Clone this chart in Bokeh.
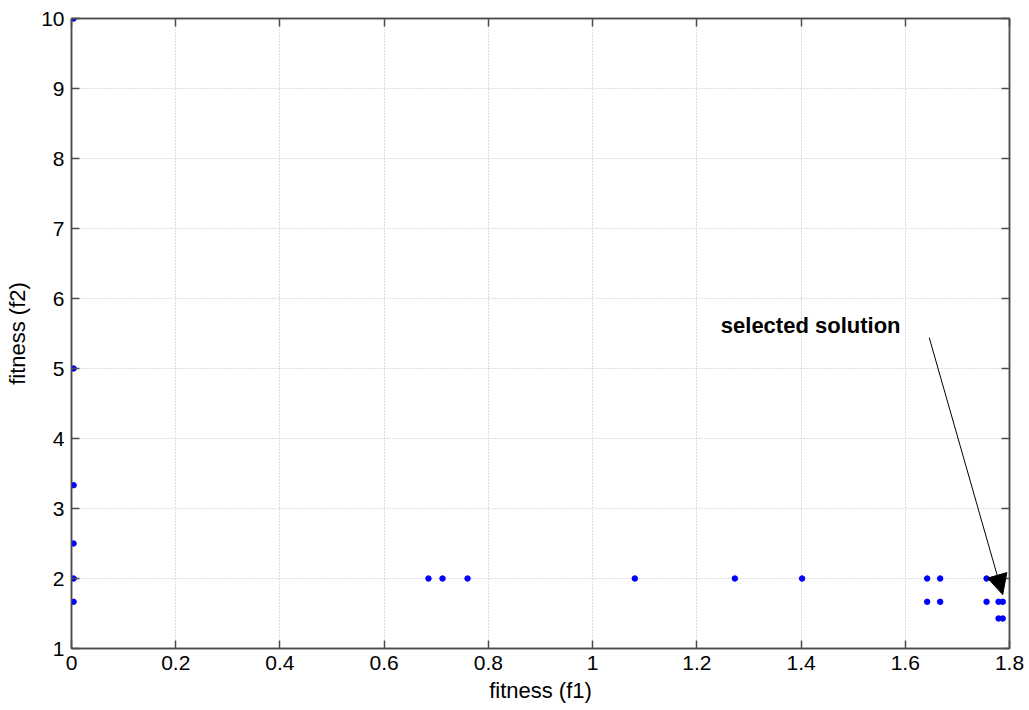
from bokeh.plotting import figure
from bokeh.models import (Range1d, FixedTicker, LinearAxis, Arrow, NormalHead,
                          Label)
from bokeh.embed import file_html
from bokeh.resources import INLINE

# Data
f1_values = [0.004, 0.004, 0.004, 0.004, 0.004, 0.004,
             0.685, 0.712, 0.760, 1.081, 1.273, 1.402, 1.642, 1.667, 1.756,
             1.642, 1.667, 1.756, 1.779, 1.787,
             1.779, 1.787]
f2_values = [10.0, 5.0, 3.333, 2.5, 2.0, 1.667,
             2.0, 2.0, 2.0, 2.0, 2.0, 2.0, 2.0, 2.0, 2.0,
             1.667, 1.667, 1.667, 1.667, 1.667,
             1.429, 1.429]

x_ticks = [0, 0.2, 0.4, 0.6, 0.8, 1.0, 1.2, 1.4, 1.6, 1.8]
x_tick_labels = ["0", "0.2", "0.4", "0.6", "0.8", "1", "1.2", "1.4", "1.6", "1.8"]
y_ticks = [1, 2, 3, 4, 5, 6, 7, 8, 9, 10]

annotation_text = "selected solution"
annotation_pos = (1.246, 5.61)
arrow_start = (1.646, 5.44)
arrow_end = (1.787, 1.77)

FONT = "Liberation Sans"
FRAME = "#4d4d4d"

p = figure(width=1029, height=710, output_backend="svg", toolbar_location=None,
           x_range=Range1d(0, 1.8), y_range=Range1d(1, 10),
           min_border_left=71, min_border_right=20, min_border_top=18,
           min_border_bottom=62)
p.background_fill_color = "white"
p.border_fill_color = "white"
p.outline_line_color = FRAME
p.outline_line_width = 1.5

p.xaxis.ticker = FixedTicker(ticks=x_ticks)
p.xaxis.major_label_overrides = {t: l for t, l in zip(x_ticks, x_tick_labels)}
p.yaxis.ticker = FixedTicker(ticks=y_ticks)

for ax in (p.xaxis[0], p.yaxis[0]):
    ax.axis_line_color = FRAME
    ax.axis_line_width = 1.5
    ax.major_tick_in = 8
    ax.major_tick_out = 0
    ax.major_tick_line_color = FRAME
    ax.major_tick_line_width = 1.5
    ax.minor_tick_line_color = None
    ax.major_label_text_font = FONT
    ax.major_label_text_font_size = "21px"
    ax.major_label_text_color = "black"
    ax.axis_label_text_font = FONT
    ax.axis_label_text_font_size = "22px"
    ax.axis_label_text_font_style = "normal"
    ax.axis_label_text_color = "black"

p.xaxis.axis_label = "fitness (f1)"
p.yaxis.axis_label = "fitness (f2)"
p.xaxis.major_label_standoff = 7
p.yaxis.major_label_standoff = 7
p.xaxis.axis_label_standoff = 5
p.yaxis.axis_label_standoff = 8

# right and top axes with inward ticks, no labels
for loc, ticks in (("right", y_ticks), ("above", x_ticks)):
    ax = LinearAxis(ticker=FixedTicker(ticks=ticks),
                    major_label_overrides={t: "" for t in ticks},
                    major_tick_in=8, major_tick_out=0, minor_tick_line_color=None,
                    axis_line_color=FRAME, axis_line_width=1.5,
                    major_tick_line_color=FRAME, major_tick_line_width=1.5,
                    major_label_standoff=0)
    p.add_layout(ax, loc)

for g in (p.xgrid[0], p.ygrid[0]):
    g.grid_line_color = "#bdbdbd"
    g.grid_line_dash = "1 2"
    g.grid_line_width = 1

p.scatter(f1_values, f2_values, size=5.5, color="#0000ff", line_color="#0000ff")

p.add_layout(Arrow(x_start=arrow_start[0], y_start=arrow_start[1],
                   x_end=arrow_end[0], y_end=arrow_end[1],
                   line_color="black", line_width=1,
                   end=NormalHead(size=20, fill_color="black", line_color="black")))
p.add_layout(Label(x=annotation_pos[0], y=annotation_pos[1], text=annotation_text,
                   text_font=FONT, text_font_size="22px", text_font_style="bold",
                   text_baseline="middle", text_align="left", text_color="black"))

open("out.html", "w").write(file_html(p, INLINE))
